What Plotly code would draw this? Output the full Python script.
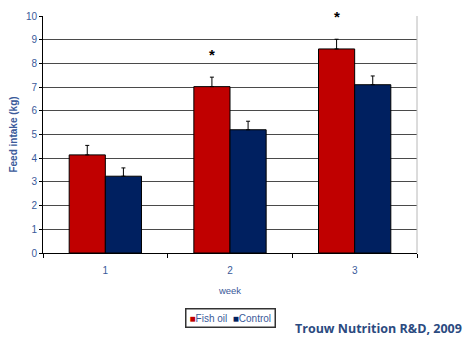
import plotly.graph_objects as go

# Feed intake per week, fish oil vs control
weeks = ["1", "2", "3"]
fish_oil = [4.14, 7.02, 8.61]
fish_oil_err = [0.40, 0.40, 0.41]
control = [3.24, 5.20, 7.10]
control_err = [0.35, 0.36, 0.37]
significant = [False, True, True]

RED = "#c00000"
NAVY = "#002060"
LABEL_BLUE = "#3a5a9a"

W, H = 464, 350
M_L, M_R, M_T, M_B = 43, 47, 10, 97
BARGAP = 0.42

fig = go.Figure()
fig.add_trace(go.Bar(
    name="Fish oil", x=weeks, y=fish_oil,
    marker=dict(color=RED, line=dict(color="black", width=1)),
    error_y=dict(type="data", array=fish_oil_err, symmetric=False,
                 arrayminus=[0] * 3, color="black", thickness=1, width=2),
))
fig.add_trace(go.Bar(
    name="Control", x=weeks, y=control,
    marker=dict(color=NAVY, line=dict(color="black", width=1)),
    error_y=dict(type="data", array=control_err, symmetric=False,
                 arrayminus=[0] * 3, color="black", thickness=1, width=2),
))

# Significance markers above the fish oil bars
bar_w = (1 - BARGAP) / 2
for i, sig in enumerate(significant):
    if sig:
        fig.add_annotation(
            x=i - bar_w / 2, y=fish_oil[i] + fish_oil_err[i] + 0.95,
            xref="x", yref="y", text="<b>*</b>", showarrow=False,
            font=dict(size=15, color="black", family="Liberation Sans"),
        )

plot_w = W - M_L - M_R
plot_h = H - M_T - M_B

def px_x(px):
    return (px - M_L) / plot_w

def px_y(py):
    return -(py - (H - M_B)) / plot_h

# Compact boxed legend: coloured squares right next to the series names
legend_text = (
    f"<span style='color:{RED}'>■</span>Fish oil\u00a0\u00a0"
    f"<span style='color:{NAVY}'>■</span>Control"
)
fig.add_annotation(
    x=px_x(230.5), y=px_y(320), xref="paper", yref="paper",
    xanchor="center", yanchor="middle", text=legend_text, showarrow=False,
    font=dict(size=10, color=LABEL_BLUE, family="Liberation Sans"),
    bordercolor="#333333", borderwidth=1.5, borderpad=3, bgcolor="white",
)

# Source credit
fig.add_annotation(
    x=px_x(378), y=px_y(330), xref="paper", yref="paper",
    xanchor="center", yanchor="middle",
    text="<b>Trouw Nutrition R&D, 2009</b>", showarrow=False,
    font=dict(size=12.5, color="#2b4a80", family="Open Sans"),
)

# Light border on the right side of the plot area
fig.add_shape(type="line", xref="paper", yref="paper", x0=1, x1=1, y0=0, y1=1,
              line=dict(color="#b8b8b8", width=1))

fig.update_layout(
    width=W, height=H,
    margin=dict(l=M_L, r=M_R, t=M_T, b=M_B),
    paper_bgcolor="white", plot_bgcolor="white",
    barmode="group", bargap=BARGAP, bargroupgap=0,
    font=dict(family="Liberation Sans", color=LABEL_BLUE, size=9),
    showlegend=False,
)
fig.update_xaxes(
    type="category", showline=True, linecolor="black", linewidth=1,
    ticks="outside", tickson="boundaries", ticklen=4, tickcolor="black",
    tickfont=dict(size=10, color=LABEL_BLUE), ticklabelstandoff=8,
    title=dict(text="week", font=dict(size=9.5, color=LABEL_BLUE), standoff=12),
    showgrid=False, range=[-0.5, 2.5],
)
fig.update_yaxes(
    range=[0, 10], dtick=1, showline=True, linecolor="black", linewidth=1,
    ticks="outside", ticklen=3, tickcolor="black",
    showgrid=True, gridcolor="#4a4a4a", gridwidth=1,
    tickfont=dict(size=10, color=LABEL_BLUE),
    title=dict(text="<b>Feed intake (kg)</b>", font=dict(size=10, color=LABEL_BLUE), standoff=6),
    zeroline=False,
)

fig.write_html("out.html")
